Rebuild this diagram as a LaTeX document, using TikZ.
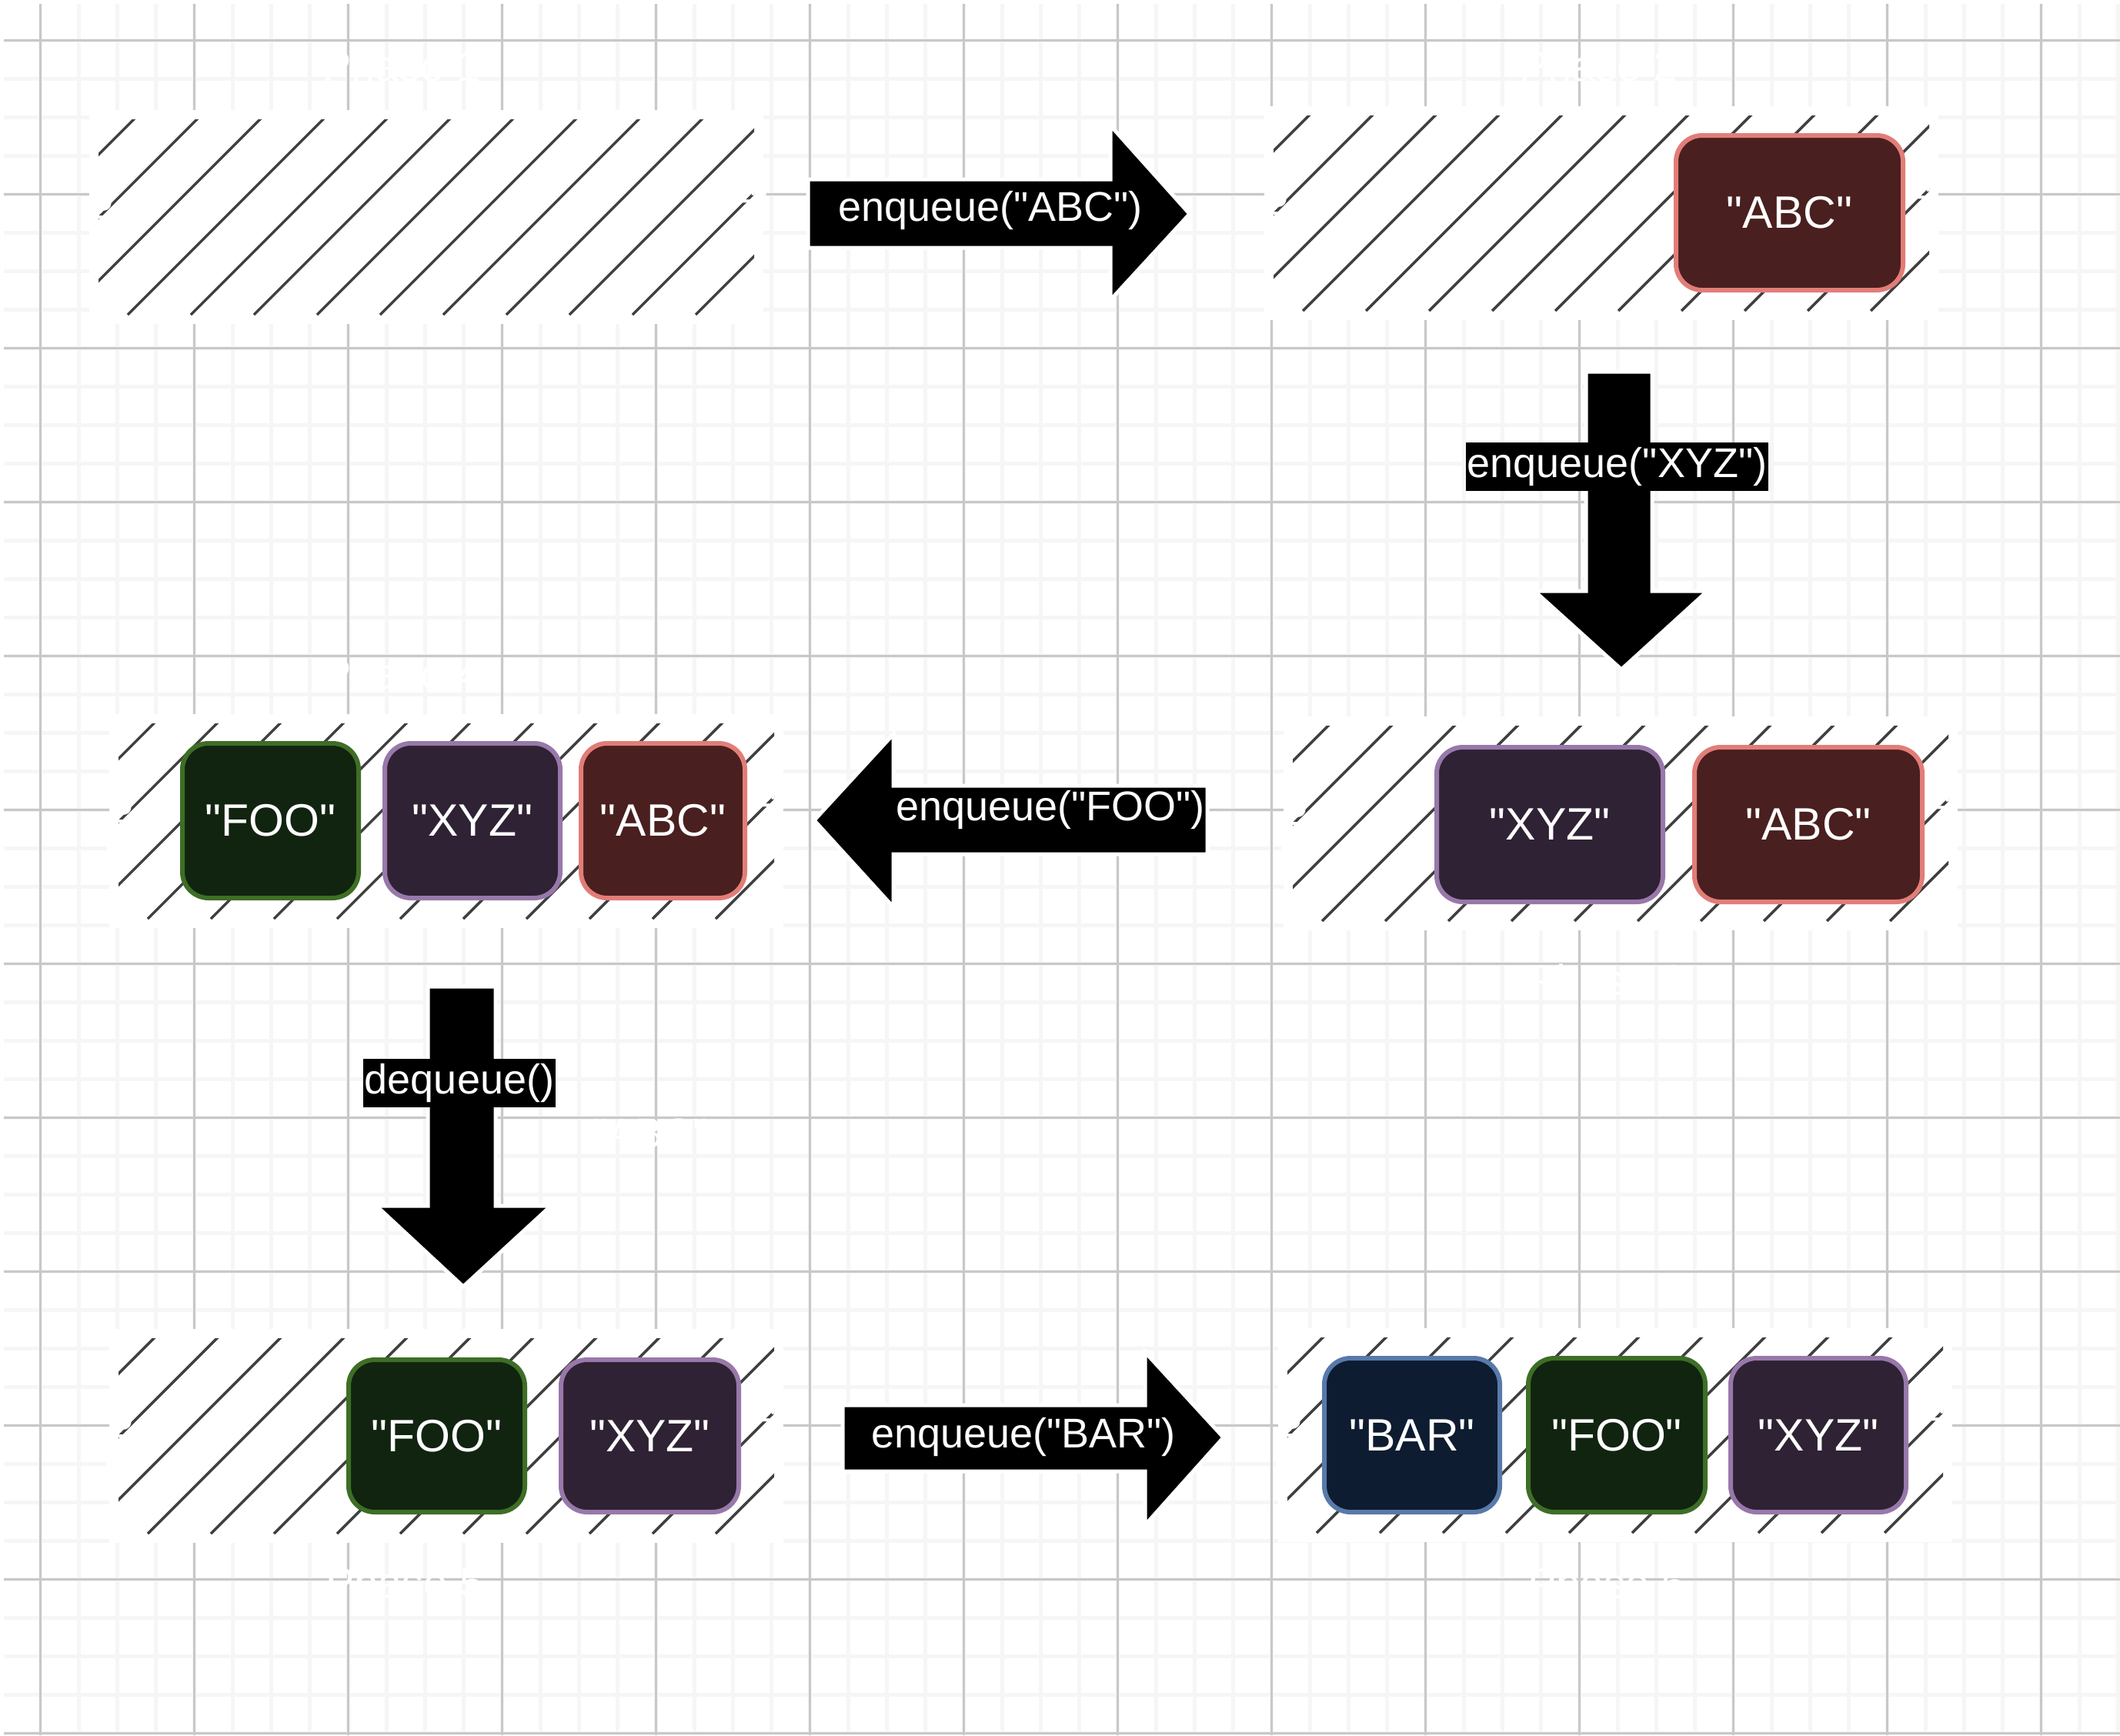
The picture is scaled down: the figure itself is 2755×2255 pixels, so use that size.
\documentclass[tikz,border=0pt]{standalone}
\usepackage{fontspec}
\setmainfont{Liberation Sans}[Ligatures=TeXOff]
\newcommand\qq{\char"22\relax}
\definecolor{gridminor}{RGB}{246,246,246}
\definecolor{gridmajor}{RGB}{200,200,200}
\definecolor{hatchc}{RGB}{64,64,64}
\definecolor{abcfill}{RGB}{74,31,31}
\definecolor{abcline}{RGB}{226,125,120}
\definecolor{xyzfill}{RGB}{47,34,52}
\definecolor{xyzline}{RGB}{152,120,170}
\definecolor{foofill}{RGB}{17,36,16}
\definecolor{fooline}{RGB}{62,110,38}
\definecolor{barfill}{RGB}{13,28,48}
\definecolor{barline}{RGB}{88,122,170}
\tikzset{
  minorline/.style={draw=gridminor, line width=4.5pt},
  majorline/.style={draw=gridmajor, line width=2.5pt},
  qarea/.style={inner sep=0pt, minimum width=852pt, minimum height=254pt,
    path picture={
      \foreach \k in {-290,-208,...,900}
        \draw[draw=hatchc, line width=3.5pt]
          ([xshift=\k pt]path picture bounding box.south west) -- ++(330pt,330pt);
    }},
  item/.style={rounded corners=34pt, line width=6pt, text=white, inner sep=0pt,
    minimum height=201pt, font=\fontsize{59}{70}\selectfont},
  abc/.style={item, fill=abcfill, draw=abcline},
  xyz/.style={item, fill=xyzfill, draw=xyzline},
  foo/.style={item, fill=foofill, draw=fooline},
  bar/.style={item, fill=barfill, draw=barline},
  bigarrow/.style={fill=black, draw=white, line width=5pt, line join=miter},
  lbl/.style={text=white, inner sep=0pt, font=\fontsize{54}{64}\selectfont},
  lblbox/.style={lbl, fill=black, inner xsep=2pt, minimum height=63pt},
  phase/.style={text=white, inner sep=0pt, font=\fontsize{56}{66}\selectfont},
  side/.style={text=white, inner sep=0pt, font=\fontsize{46}{56}\selectfont},
}
\begin{document}
\begin{tikzpicture}[x=1pt, y=-1pt]
\useasboundingbox (0,0) rectangle (2755,2255);
\fill[white] (0,0) rectangle (2755,2255);
% grid
\foreach \i in {0,...,54} \draw[minorline] ({52.6+50*\i},5) -- ({52.6+50*\i},2255);
\foreach \i in {0,...,44} \draw[minorline] (5,{52.6+50*\i}) -- (2755,{52.6+50*\i});
\foreach \i in {0,...,13} \draw[majorline] ({52.6+200*\i},5) -- ({52.6+200*\i},2255);
\foreach \i in {0,...,11} \draw[majorline] (5,{52.6+200*\i}) -- (2755,{52.6+200*\i});

% queue areas
\foreach \n/\cx/\cy in {b1/554/282, b2/2081/277, b3/2106/1070, b4/580/1067, b5/580/1866, b6/2099/1865}{
  \fill[white] (\cx-438,\cy-139) rectangle (\cx+438,\cy+139);
  \node[qarea] (\n) at (\cx,\cy) {};
  \node[side, rotate=90] (\n-back) at (\n.west) {Back};
  \node[side, rotate=-90] (\n-front) at (\n.east) {Front};
}

% phase labels
\node[phase] (ph1) at (522,85) {Phase 1};
\node[phase] (ph2) at (2077,85) {Phase 2};
\node[phase] (ph3) at (2088,1273) {Phase 3};
\node[phase] (ph4) at (522,875) {Phase 4};
\node[phase] (ph5) at (526,2056) {Phase 5};
\node[phase] (ph6) at (2088,2057) {Phase 6};

% items
\node[abc, minimum width=295pt] (p2abc) at (2325.5,276.5) {\qq ABC\qq};
\node[xyz, minimum width=294pt] (p3xyz) at (2014,1071.5) {\qq XYZ\qq};
\node[abc, minimum width=296pt] (p3abc) at (2350,1071.5) {\qq ABC\qq};
\node[foo, minimum width=229pt] (p4foo) at (351.5,1066.5) {\qq FOO\qq};
\node[xyz, minimum width=228pt] (p4xyz) at (614,1066.5) {\qq XYZ\qq};
\node[abc, minimum width=213pt] (p4abc) at (861.5,1066.5) {\qq ABC\qq};
\node[foo, minimum width=229pt, minimum height=198pt] (p5foo) at (567.5,1866) {\qq FOO\qq};
\node[xyz, minimum width=231pt, minimum height=198pt] (p5xyz) at (844.5,1866) {\qq XYZ\qq};
\node[bar, minimum width=228pt, minimum height=200pt] (p6bar) at (1835,1865) {\qq BAR\qq};
\node[foo, minimum width=230pt, minimum height=200pt] (p6foo) at (2101,1865) {\qq FOO\qq};
\node[xyz, minimum width=228pt, minimum height=200pt] (p6xyz) at (2363,1865) {\qq XYZ\qq};

% arrows
\draw[bigarrow] (1050,233) -- (1443,233) -- (1443,163) -- (1546,278) -- (1443,390) -- (1443,322) -- (1050,322) -- cycle;
\draw[bigarrow] (2061,483) -- (2147,483) -- (2147,768) -- (2219,768) -- (2107,870) -- (1994,768) -- (2061,768) -- cycle;
\draw[bigarrow] (1569,1021) -- (1161,1021) -- (1161,954) -- (1058,1066) -- (1161,1179) -- (1161,1110) -- (1569,1110) -- cycle;
\draw[bigarrow] (556,1282) -- (644,1282) -- (644,1567) -- (716,1567) -- (602,1672) -- (489,1567) -- (556,1567) -- cycle;
\draw[bigarrow] (1095,1826) -- (1488,1826) -- (1488,1757) -- (1590,1868) -- (1488,1982) -- (1488,1912) -- (1095,1912) -- cycle;

% arrow labels
\node[lbl] (l1) at (1287,274) {enqueue(\qq ABC\qq)};
\node[lblbox] (l2) at (2101.5,606.5) {enqueue(\qq XYZ\qq)};
\node[lbl] (l3) at (1365,1053) {enqueue(\qq FOO\qq)};
\node[lblbox] (l4) at (597,1407.5) {dequeue()};
\node[lbl] (l5) at (1330,1868) {enqueue(\qq BAR\qq)};
\node[lbl] (out) at (845,1473) {\qq ABC\qq};
\end{tikzpicture}
\end{document}
